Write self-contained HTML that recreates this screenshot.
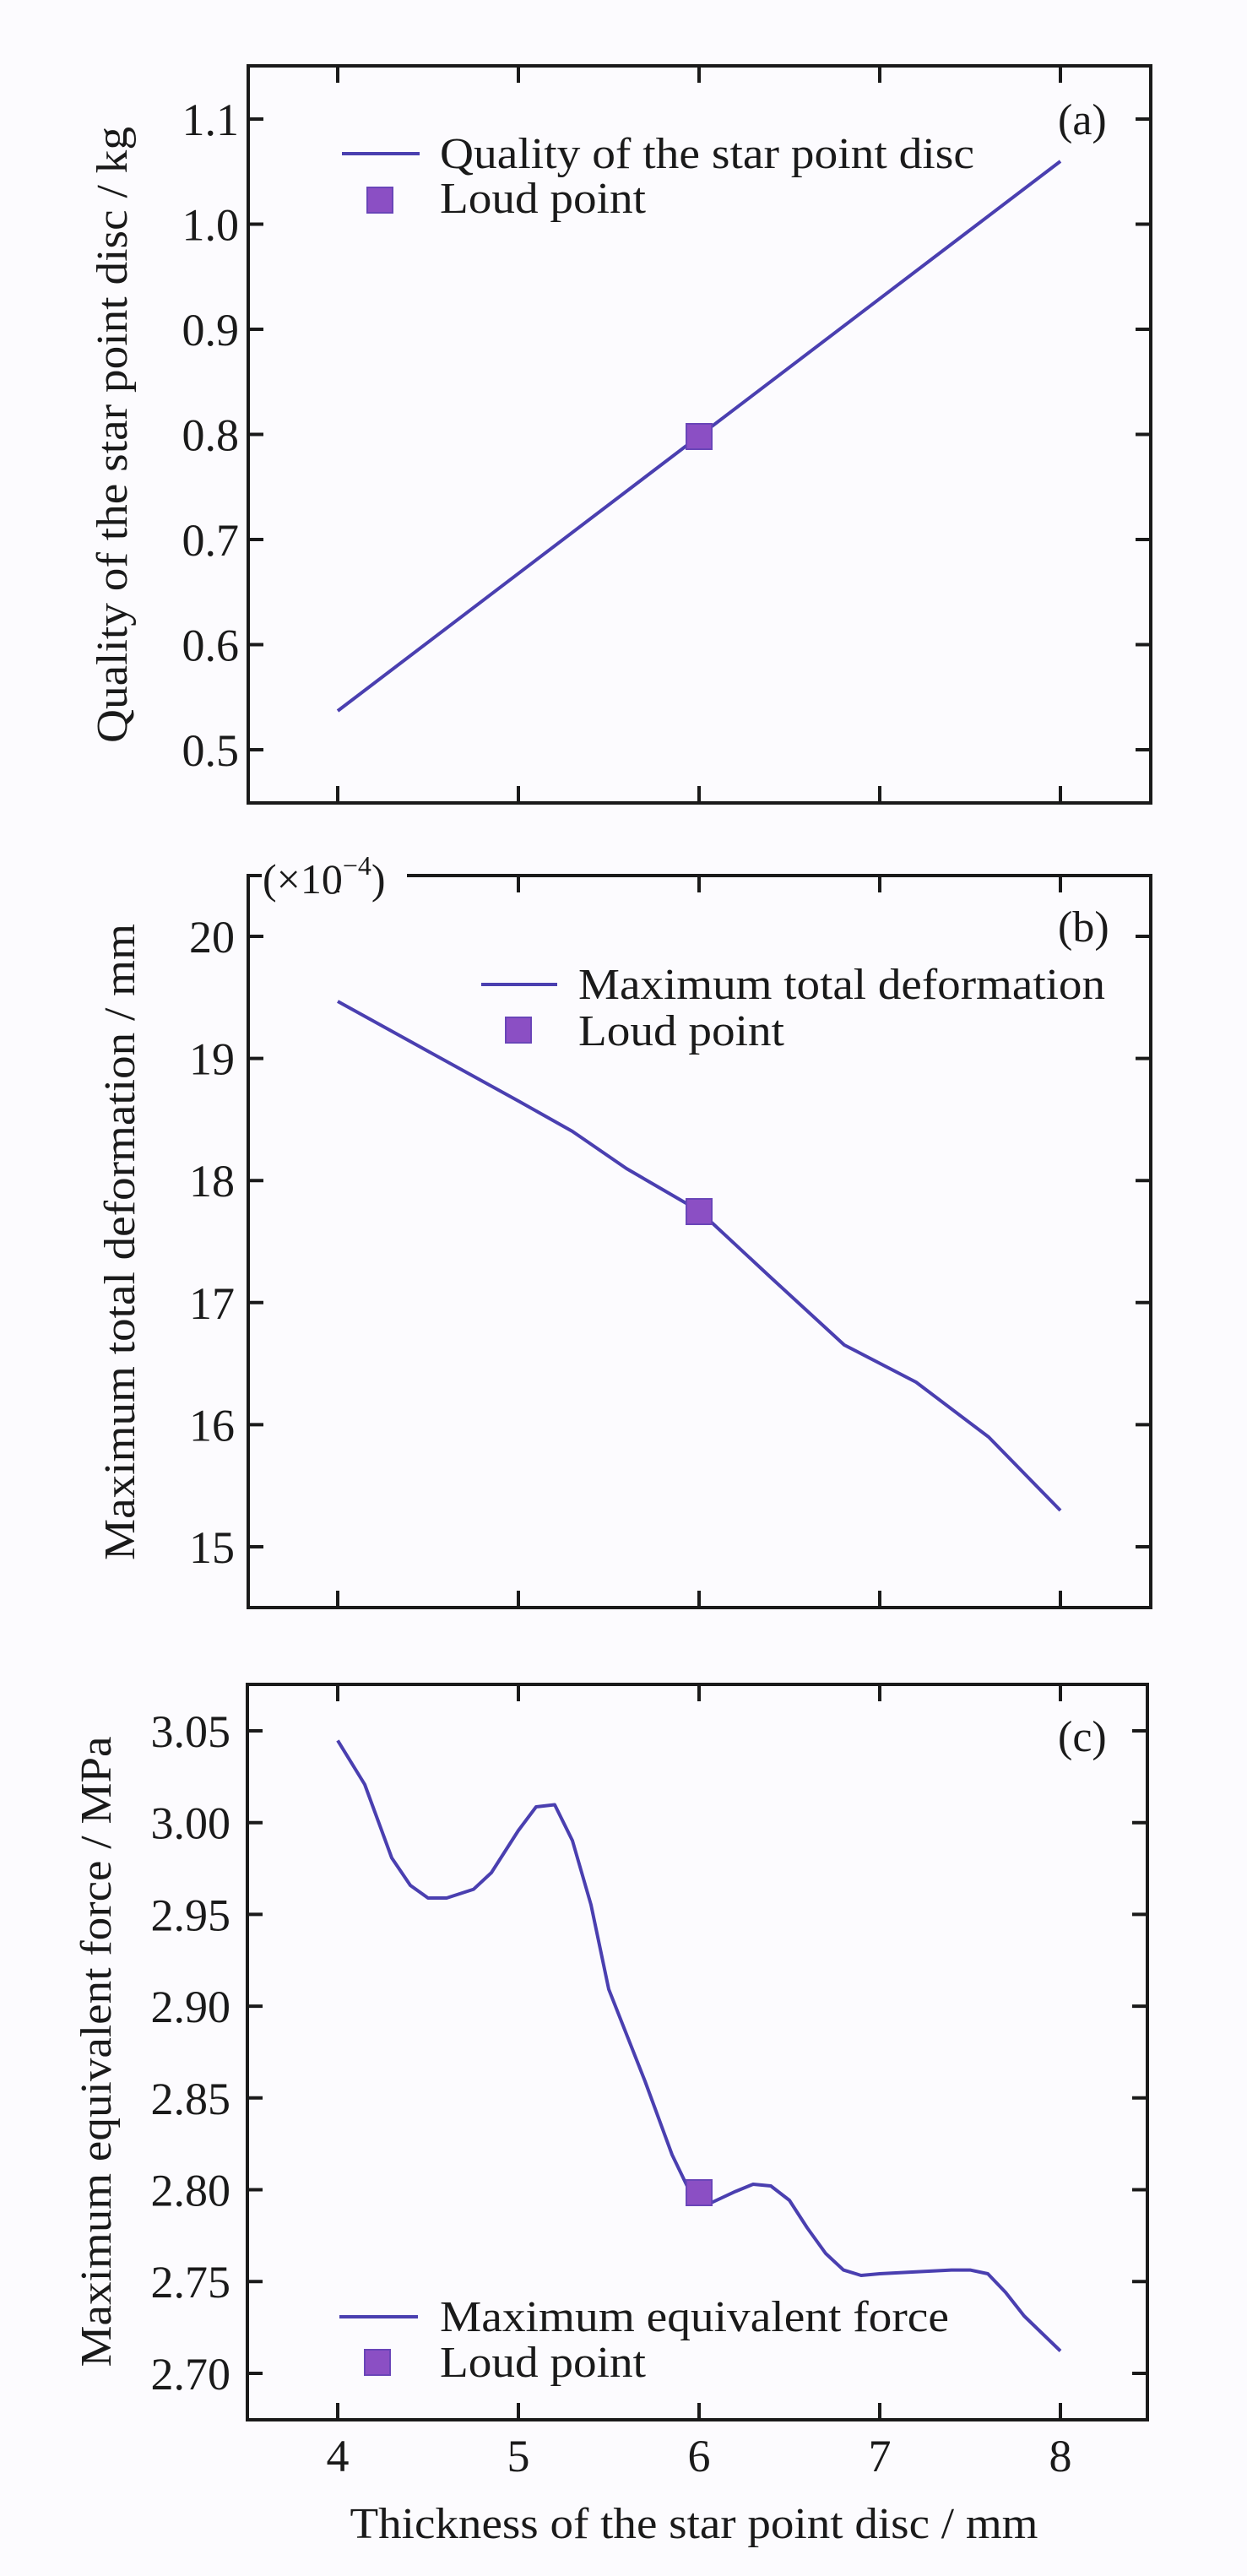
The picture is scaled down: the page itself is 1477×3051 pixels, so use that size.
<!DOCTYPE html>
<html><head><meta charset="utf-8"><style>
html,body{margin:0;padding:0;background:#fcfbfe;}
svg{display:block;}
text{font-family:"Liberation Serif",serif;fill:#1a1a1a;}
</style></head><body>
<svg width="1477" height="3051" viewBox="0 0 1477 3051" xmlns="http://www.w3.org/2000/svg">
<rect width="1477" height="3051" fill="#fcfbfe"/>
<g stroke="#1a1a1a" stroke-width="4" fill="none">
<rect x="294" y="78" width="1069" height="873"/>
<rect x="294" y="1037" width="1069" height="867"/>
<rect x="293" y="1995" width="1066" height="871"/>
</g>
<g stroke="#1a1a1a" stroke-width="4">
<path d="M400 78v20M614 78v20M828 78v20M1042 78v20M1256 78v20M400 951v-20M614 951v-20M828 951v-20M1042 951v-20M1256 951v-20"/>
<path d="M400 1037v20M614 1037v20M828 1037v20M1042 1037v20M1256 1037v20M400 1904v-20M614 1904v-20M828 1904v-20M1042 1904v-20M1256 1904v-20"/>
<path d="M400 1995v20M614 1995v20M828 1995v20M1042 1995v20M1256 1995v20M400 2866v-20M614 2866v-20M828 2866v-20M1042 2866v-20M1256 2866v-20"/>
<path d="M294 141h18M294 265.5h18M294 390h18M294 514.5h18M294 639h18M294 763.5h18M294 888h18
M1363 141h-18M1363 265.5h-18M1363 390h-18M1363 514.5h-18M1363 639h-18M1363 763.5h-18M1363 888h-18"/>
<path d="M294 1109h18M294 1253.6h18M294 1398.2h18M294 1542.8h18M294 1687.4h18M294 1832h18
M1363 1109h-18M1363 1253.6h-18M1363 1398.2h-18M1363 1542.8h-18M1363 1687.4h-18M1363 1832h-18"/>
<path d="M293 2050h18M293 2158.7h18M293 2267.4h18M293 2376.1h18M293 2484.8h18M293 2593.5h18M293 2702.2h18M293 2811h18
M1359 2050h-18M1359 2158.7h-18M1359 2267.4h-18M1359 2376.1h-18M1359 2484.8h-18M1359 2593.5h-18M1359 2702.2h-18M1359 2811h-18"/>
</g>
<g font-size="54" text-anchor="end">
<text x="283" y="160">1.1</text><text x="283" y="284.5">1.0</text><text x="283" y="409">0.9</text><text x="283" y="533.5">0.8</text><text x="283" y="658">0.7</text><text x="283" y="782.5">0.6</text><text x="283" y="907">0.5</text>
<text x="278" y="1128">20</text><text x="278" y="1272.6">19</text><text x="278" y="1417.2">18</text><text x="278" y="1561.8">17</text><text x="278" y="1706.4">16</text><text x="278" y="1851">15</text>
<text x="273" y="2069">3.05</text><text x="273" y="2177.7">3.00</text><text x="273" y="2286.4">2.95</text><text x="273" y="2395.1">2.90</text><text x="273" y="2503.8">2.85</text><text x="273" y="2612.5">2.80</text><text x="273" y="2721.2">2.75</text><text x="273" y="2830">2.70</text>
</g>
<g font-size="54" text-anchor="middle">
<text x="400" y="2927">4</text><text x="614" y="2927">5</text><text x="828" y="2927">6</text><text x="1042" y="2927">7</text><text x="1256" y="2927">8</text>
</g>
<text x="822" y="3006" font-size="52" text-anchor="middle" textLength="815" lengthAdjust="spacingAndGlyphs">Thickness of the star point disc / mm</text>
<text transform="translate(150,515) rotate(-90)" font-size="52" text-anchor="middle" textLength="730" lengthAdjust="spacingAndGlyphs">Quality of the star point disc / kg</text>
<text transform="translate(159,1471) rotate(-90)" font-size="52" text-anchor="middle" textLength="754" lengthAdjust="spacingAndGlyphs">Maximum total deformation / mm</text>
<text transform="translate(131,2430) rotate(-90)" font-size="52" text-anchor="middle" textLength="747" lengthAdjust="spacingAndGlyphs">Maximum equivalent force / MPa</text>
<g font-size="52">
<text x="1253" y="159">(a)</text><text x="1253" y="1115">(b)</text><text x="1253" y="2074">(c)</text>
</g>
<rect x="310" y="1025" width="172" height="30" fill="#fcfbfe"/>
<text x="311" y="1058" font-size="50">(×10<tspan font-size="32" dy="-22">−4</tspan><tspan dy="22">)</tspan></text>
<g stroke="#4a3fb0" stroke-width="4" fill="none" stroke-linejoin="round">
<path d="M400 842L1256 191"/>
<path d="M400 1186 L496 1239 L614 1304 L678 1340 L742 1384 L828 1434 L914 1514 L1000 1593 L1085 1637 L1171 1702 L1256 1789"/>
<path d="M400 2061.4 L432 2113.5 L464 2200.5 L486 2233 L507 2248 L529 2248 L561 2237.6 L582 2218 L614 2168 L635 2140 L657 2137.5 L678 2180 L700 2256 L721 2356 L764 2465 L796 2552 L817 2595.6 L838 2611 L871 2595.6 L892 2587 L913 2589 L935 2606 L956 2638.5 L978 2669 L999 2688.6 L1020 2695 L1042 2693 L1085 2690.8 L1127 2688.6 L1149 2688.6 L1170 2693 L1191 2715 L1213 2743 L1256 2784.5"/>
</g>
<g fill="#8b4fc4" stroke="#6a45b8" stroke-width="2">
<rect x="813" y="502" width="30" height="30"/>
<rect x="813" y="1420" width="30" height="30"/>
<rect x="813" y="2582" width="30" height="30"/>
<rect x="435" y="222" width="30" height="30"/>
<rect x="599" y="1205" width="30" height="30"/>
<rect x="432" y="2783" width="30" height="30"/>
</g>
<g stroke="#4a3fb0" stroke-width="4">
<path d="M405 182H497M570 1166H660M402 2744H495"/>
</g>
<g font-size="52">
<text x="521" y="199" textLength="633" lengthAdjust="spacingAndGlyphs">Quality of the star point disc</text>
<text x="521" y="252" textLength="244" lengthAdjust="spacingAndGlyphs">Loud point</text>
<text x="685" y="1183" textLength="624" lengthAdjust="spacingAndGlyphs">Maximum total deformation</text>
<text x="685" y="1238" textLength="244" lengthAdjust="spacingAndGlyphs">Loud point</text>
<text x="521" y="2761" textLength="603" lengthAdjust="spacingAndGlyphs">Maximum equivalent force</text>
<text x="521" y="2815" textLength="244" lengthAdjust="spacingAndGlyphs">Loud point</text>
</g>
</svg>
</body></html>
